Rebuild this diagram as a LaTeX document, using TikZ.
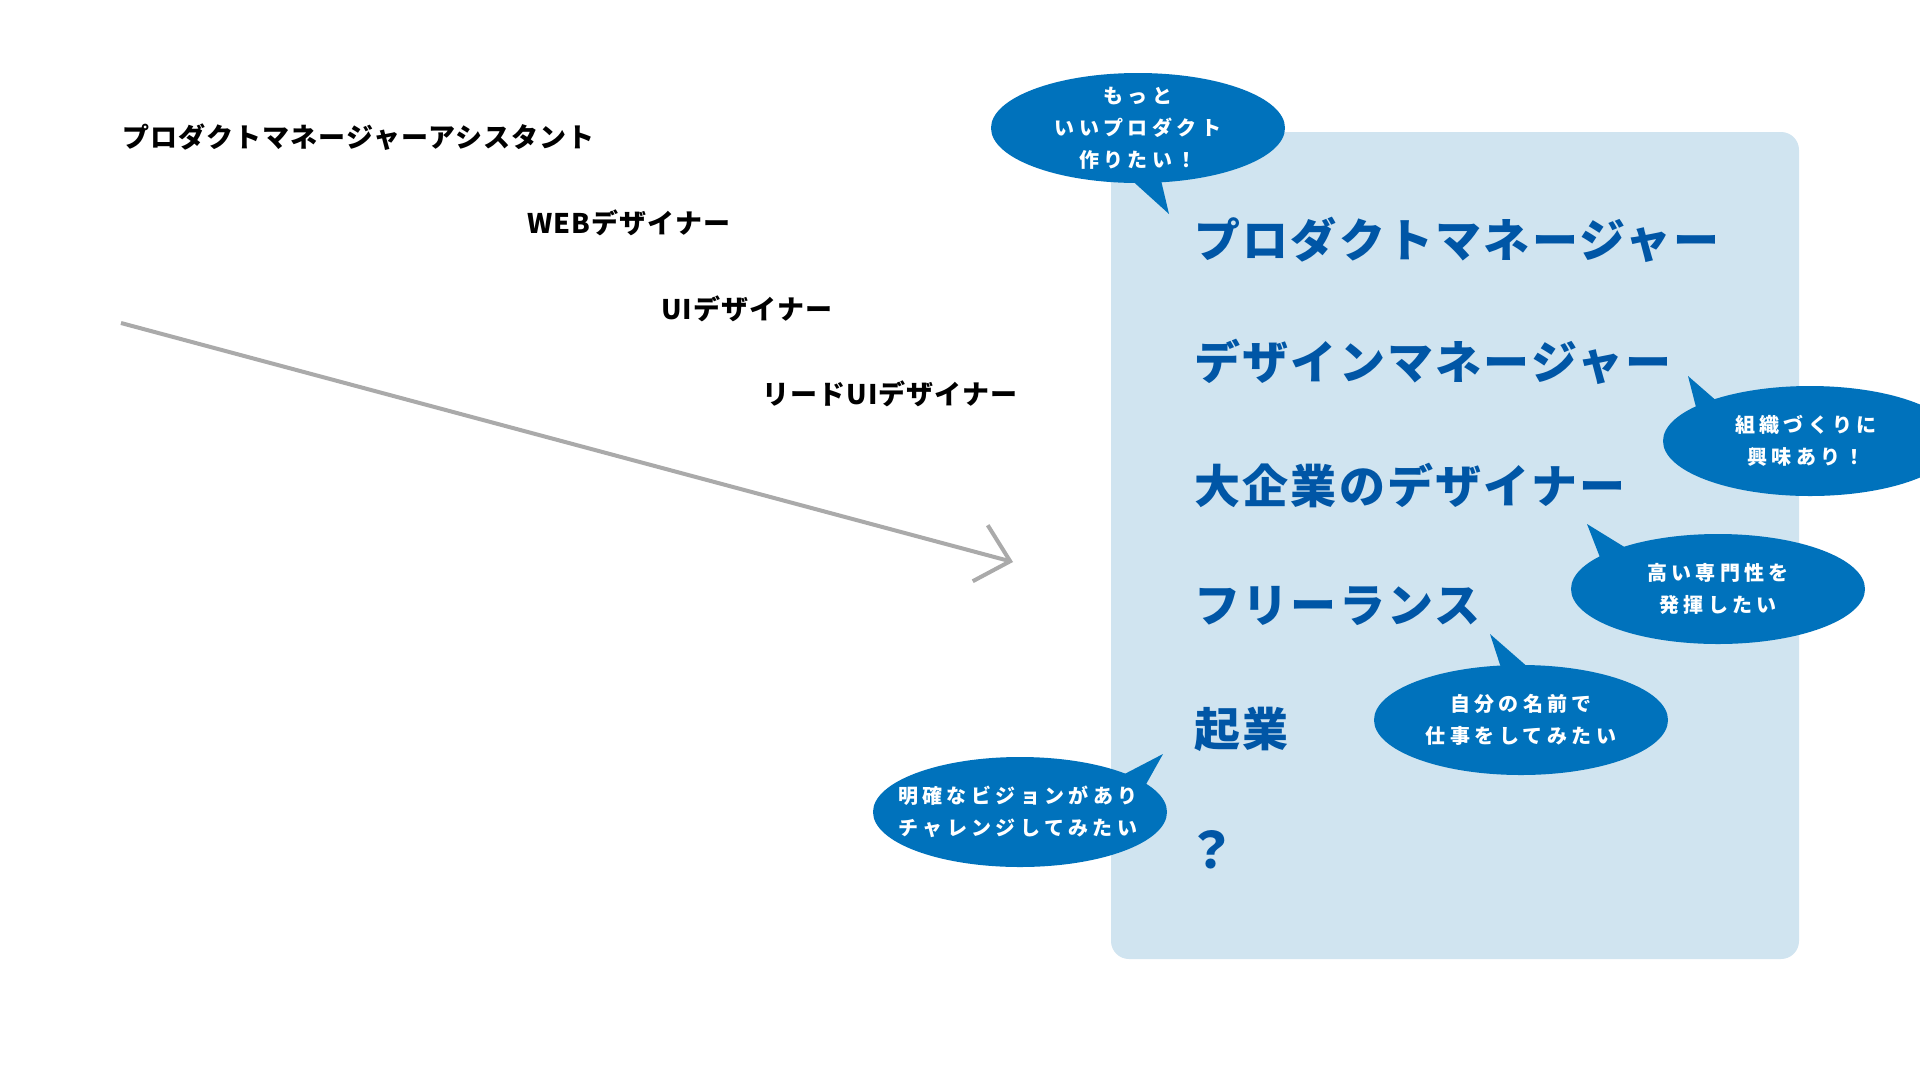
\documentclass[tikz,border=0pt]{standalone}
\usepackage{fontspec}
\usetikzlibrary{shapes.geometric,arrows.meta}
\newfontfamily\jpmain{Noto Sans CJK JP}[LetterSpace=5]
\newfontfamily\jpbubble{Noto Sans CJK JP}[LetterSpace=22]
\newfontfamily\jpleft{Noto Sans CJK JP}[LetterSpace=4]
\definecolor{panelblue}{RGB}{208,228,240}
\definecolor{bubbleblue}{RGB}{0,114,188}
\definecolor{textblue}{RGB}{0,86,166}
\definecolor{arrowgray}{RGB}{170,170,170}
\tikzset{
  bubble/.style={ellipse, fill=bubbleblue, minimum width=294pt, minimum height=110pt,
    inner sep=0pt},
  bubbletext/.style={inner sep=0pt, text=white, align=center,
    font=\jpbubble\bfseries\fontsize{20}{32}\selectfont},
  tail/.style={fill=bubbleblue},
  mainlabel/.style={anchor=west, inner sep=0pt, text=textblue,
    font=\jpmain\bfseries\fontsize{46}{50}\selectfont},
  leftlabel/.style={anchor=west, inner sep=0pt, text=black,
    font=\jpleft\bfseries\fontsize{27}{30}\selectfont},
  panel/.style={fill=panelblue, rounded corners=18pt},
  trend/.style={draw=arrowgray, line width=4pt, -{Straight Barb[length=31pt,width=58pt]}}
}
\begin{document}
\begin{tikzpicture}[x=1pt,y=-1pt]
\clip (0,0) rectangle (1920,1080);
\fill[white] (0,0) rectangle (1920,1080);

% left career texts
\node[leftlabel] (l1) at (122,137) {プロダクトマネージャーアシスタント};
\node[leftlabel] (l2) at (527,223) {WEBデザイナー};
\node[leftlabel] (l3) at (661,309) {UIデザイナー};
\node[leftlabel] (l4) at (762,394) {リードUIデザイナー};

% arrow
\coordinate (arrS) at (121,323);
\coordinate (arrE) at (1013,562);
\draw[trend] (arrS) -- (arrE);

% panel
\fill[panel] (1111,132) rectangle (1799,959);

% main options
\node[mainlabel] (m1) at (1194,240) {プロダクトマネージャー};
\node[mainlabel] (m2) at (1194,362) {デザインマネージャー};
\node[mainlabel] (m3) at (1194,485) {大企業のデザイナー};
\node[mainlabel] (m4) at (1194,606) {フリーランス};
\node[mainlabel] (m5) at (1194,729) {起業};
\node[mainlabel, font=\jpmain\bfseries\fontsize{50}{54}\selectfont] (m6) at (1186,850) {？};

% bubbles
\node[bubble] (b1) at (1138,128) {};
\coordinate (t1) at (1169,214);
\fill[tail] ([shift={(-11,48)}]b1.center) -- ([shift={(22,48)}]b1.center) -- (t1) -- cycle;
\node[bubbletext] (b1t) at (b1.center) {もっと\\いいプロダクト\\作りたい！};

\node[bubble] (b2) at (1810,441) {};
\coordinate (t2) at (1688,376);
\fill[tail] ([shift={(-112,-26)}]b2.center) -- ([shift={(-83,-31)}]b2.center) -- (t2) -- cycle;
\node[bubbletext] (b2t) at ([shift={(-4,0)}]b2.center) {組織づくりに\\興味あり！};

\node[bubble] (b3) at (1718,589) {};
\coordinate (t3) at (1587,524);
\fill[tail] ([shift={(-117,-29)}]b3.center) -- ([shift={(-79,-33)}]b3.center) -- (t3) -- cycle;
\node[bubbletext] (b3t) at (b3.center) {高い専門性を\\発揮したい};

\node[bubble] (b4) at (1521,720) {};
\coordinate (t4) at (1490,634);
\fill[tail] ([shift={(-16,-40)}]b4.center) -- ([shift={(17,-44)}]b4.center) -- (t4) -- cycle;
\node[bubbletext] (b4t) at (b4.center) {自分の名前で\\仕事をしてみたい};

\node[bubble] (b5) at (1020,812) {};
\coordinate (t5) at (1163,754);
\fill[tail] ([shift={(95,-33)}]b5.center) -- ([shift={(120,-17)}]b5.center) -- (t5) -- cycle;
\node[bubbletext] (b5t) at ([shift={(-2,0)}]b5.center) {明確なビジョンがあり\\チャレンジしてみたい};
\end{tikzpicture}
\end{document}
